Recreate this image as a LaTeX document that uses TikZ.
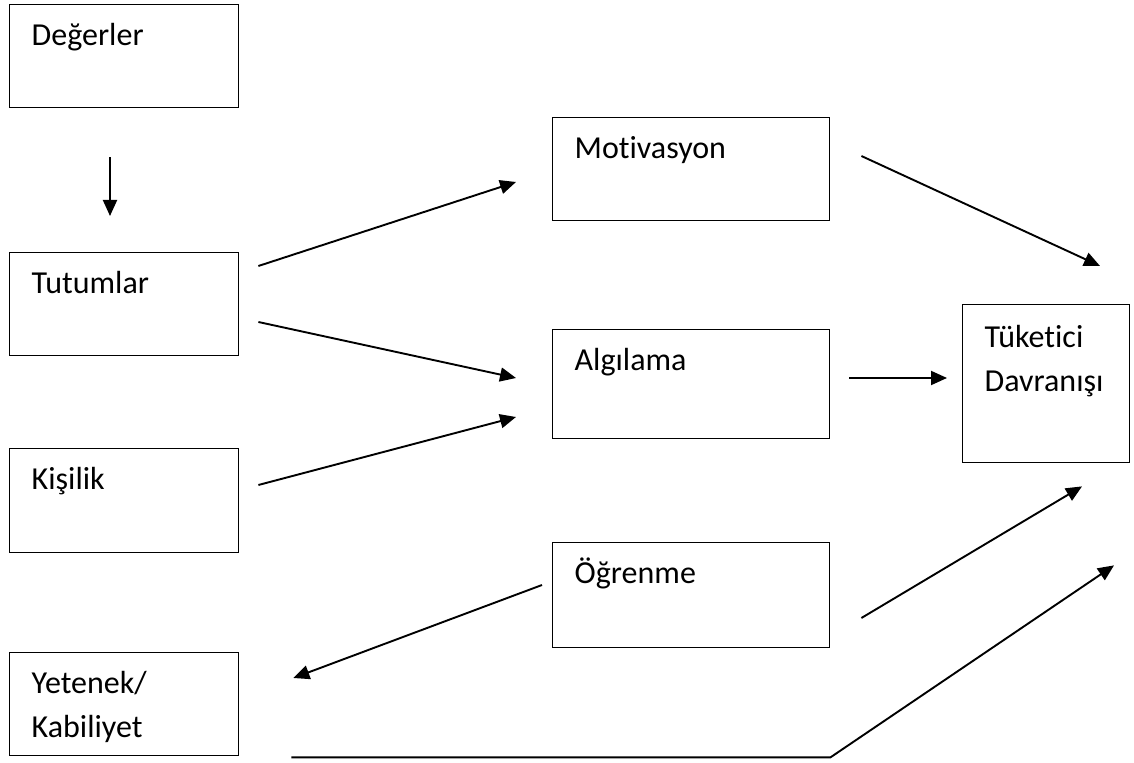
\documentclass[tikz,border=0pt]{standalone}
\usepackage{fontspec}
\setmainfont{Carlito}[Ligatures=NoCommon]
\usetikzlibrary{arrows.meta}
\hyphenpenalty=10000

\tikzset{
  kutu/.style={draw, line width=0.7pt, anchor=north west, align=left,
    inner xsep=11pt, inner ysep=0pt, text height=20.5pt, text depth=31pt,
    font=\fontsize{16pt}{22pt}\selectfont},
  solkutu/.style={kutu, text width=92.5pt},
  ortakutu/.style={kutu, text width=116.5pt},
  ok/.style={line width=0.95pt, -{Triangle[length=8pt,width=7pt]}}
}

\begin{document}
\begin{tikzpicture}[x=0.5pt, y=-0.5pt]
  \useasboundingbox (0,0) rectangle (1134,763);
  % sol sutun
  \node[solkutu] (deg) at (9,4) {Değerler};
  \node[solkutu] (tut) at (9,252) {Tutumlar};
  \node[solkutu, text depth=31.5pt] (kis) at (9,448) {Kişilik};
  \node[solkutu] (yet) at (9,652) {Yetenek/\\Kabiliyet};
  % orta sutun
  \node[ortakutu] (mot) at (552,117) {Motivasyon};
  \node[ortakutu, text depth=34pt] (alg) at (552,329) {Algılama};
  \node[ortakutu, text depth=32pt] (ogr) at (552,542) {Öğrenme};
  % sag
  \node[kutu, text width=61.5pt, text height=21.5pt, text depth=57.5pt] (tuk) at (962,304) {Tüketici\\Davranışı};
  % oklar
  \draw[ok] ([shift={(101,49)}]deg.south west) -- ([shift={(101,-36)}]tut.north west);
  \draw[ok] ([shift={(19,14)}]tut.north east) -- ([shift={(-36,65)}]mot.north west);
  \draw[ok] ([shift={(19,70)}]tut.north east) -- ([shift={(-36,49)}]alg.north west);
  \draw[ok] ([shift={(19,37)}]kis.north east) -- ([shift={(-36,88)}]alg.north west);
  \draw[ok] ([shift={(31,39)}]mot.north east) -- ([shift={(138,-38)}]tuk.north west);
  \draw[ok] ([shift={(19,49)}]alg.north east) -- ([shift={(-15,74)}]tuk.north west);
  \draw[ok] ([shift={(-10,43)}]ogr.north west) -- ([shift={(54,26)}]yet.north east);
  \draw[ok] ([shift={(31,76)}]ogr.north east) -- ([shift={(120,23)}]tuk.south west);
  \coordinate (kose) at ([shift={(0,109)}]ogr.south east);
  \draw[ok] ([shift={(52,1)}]yet.south east) -- (kose) -- ([shift={(152,102)}]tuk.south west);
\end{tikzpicture}
\end{document}
